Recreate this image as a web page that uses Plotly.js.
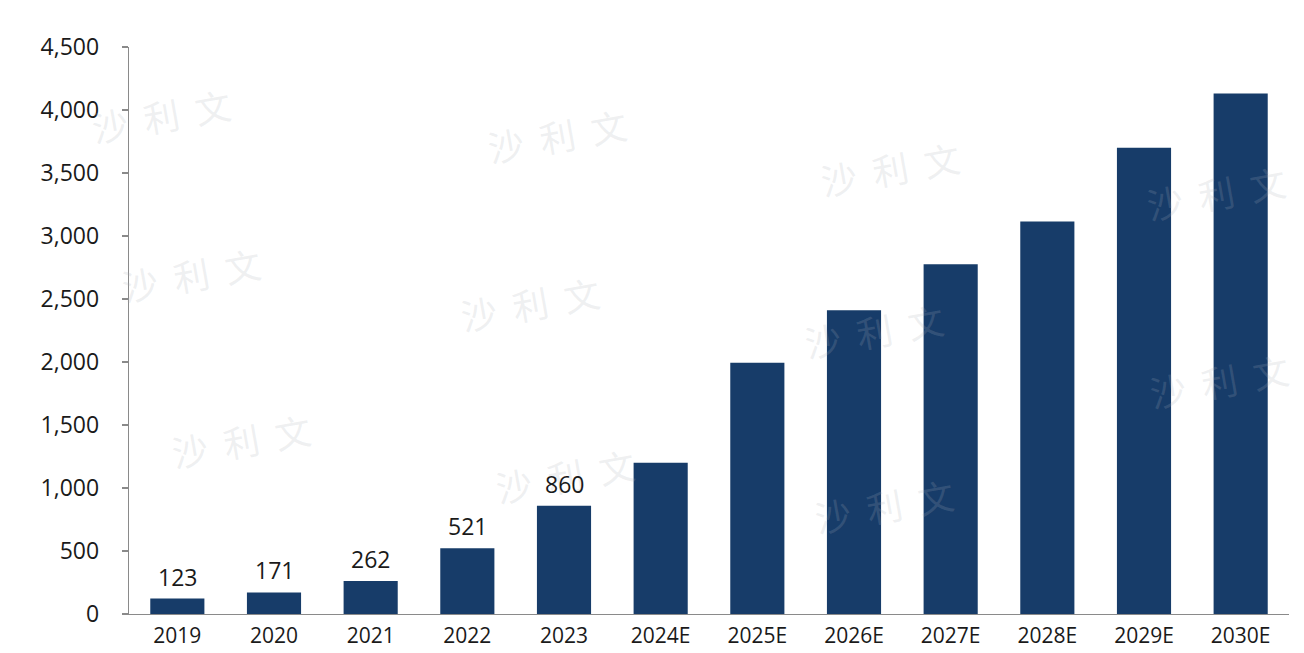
<!DOCTYPE html>
<html>
<head>
<meta charset="utf-8">
<script src="https://cdn.plot.ly/plotly-3.0.1.min.js"></script>
<style>html,body{margin:0;padding:0;background:#fff;}#chart{width:1304px;height:653px;}</style>
</head>
<body>
<div id="chart"></div>
<script>
var categories = ["2019","2020","2021","2022","2023","2024E","2025E","2026E","2027E","2028E","2029E","2030E"];
var values = [123, 171, 262, 521, 860, 1200, 1995, 2410, 2775, 3115, 3700, 4130];
var labels = ["123","171","262","521","860","","","","","","",""];
var yTicks = [0,500,1000,1500,2000,2500,3000,3500,4000,4500];
var watermarkText = "沙  利  文";
var watermarkPos = [[85,75],[481,95],[890,128],[1292,152],[115,274],[530,303],[950,330],[1295,380],[165,480],[565,515],[960,545]];

var L = 129, R = 1289, T = 47, B = 614;
var annotations = watermarkPos.map(function(p){
  return {
    xref: "paper", yref: "paper",
    x: (p[0]-L)/(R-L), y: (B-p[1])/(B-T),
    text: watermarkText, showarrow: false, textangle: -10,
    font: {family: "Noto Sans CJK SC", size: 36, color: "rgba(170,175,185,0.2)"}
  };
});
categories.forEach(function(c, i){
  if (labels[i]) {
    annotations.push({
      xref: "x", yref: "y", x: i, y: values[i],
      text: labels[i], showarrow: false, yanchor: "bottom", yshift: 4,
      font: {family: "Open Sans, sans-serif", size: 23, color: "#1a1a1a"}
    });
  }
});

var trace = {
  type: "bar",
  x: categories,
  y: values,
  marker: {color: "#173c69"},
  hoverinfo: "x+y"
};

var layout = {
  width: 1304, height: 653,
  margin: {l: L, r: 1304-R, t: T, b: 653-B},
  paper_bgcolor: "#ffffff", plot_bgcolor: "#ffffff",
  bargap: 0.44,
  showlegend: false,
  font: {family: "Open Sans, sans-serif", color: "#1a1a1a"},
  xaxis: {
    type: "category",
    range: [-0.5, categories.length - 0.5],
    showline: true, linecolor: "#8a8a8a", linewidth: 1.3,
    ticks: "", showgrid: false, zeroline: false,
    ticklabelstandoff: 2,
    tickfont: {size: 21, color: "#1a1a1a"}
  },
  yaxis: {
    range: [0, 4500], tickvals: yTicks,
    tickformat: ",d",
    showline: true, linecolor: "#8a8a8a", linewidth: 1.3,
    ticks: "outside", ticklen: 6, tickcolor: "#8a8a8a", tickwidth: 1.3,
    ticklabelstandoff: 18,
    showgrid: false, zeroline: false,
    tickfont: {size: 23, color: "#1a1a1a"}
  },
  annotations: annotations
};

Plotly.newPlot("chart", [trace], layout, {displayModeBar: false, staticPlot: true});
</script>
</body>
</html>
